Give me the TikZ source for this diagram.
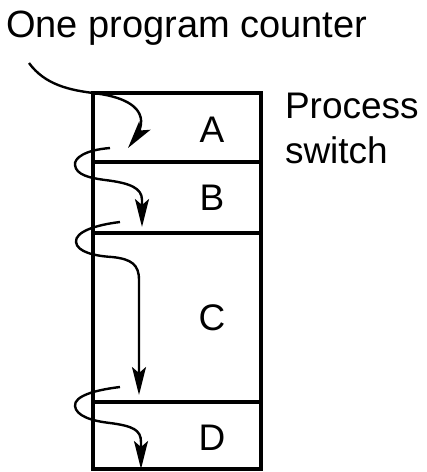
\documentclass[tikz,border=0pt]{standalone}
\usepackage{fontspec}
\setmainfont{Liberation Sans}
\usetikzlibrary{arrows.meta}
\begin{document}
\begin{tikzpicture}[x=0.5pt,y=-0.5pt,
  cell/.style={draw, line width=1.75pt, minimum width=84pt, inner sep=0pt, outer sep=0pt},
  lbl/.style={inner sep=0pt, outer sep=0pt, font=\fontsize{18.5}{22.5}\selectfont},
  pc/.style={line width=1.2pt},
  pcarrow/.style={pc, -{Stealth[length=14pt,width=7pt,inset=3pt]}}]
\useasboundingbox (0,0) rectangle (427,472);
% memory cells
\node[cell, minimum height=34.5pt] (cellA) at (177,127.5) {};
\node[cell, minimum height=35.5pt] (cellB) at (177,197.5) {};
\node[cell, minimum height=84.5pt] (cellC) at (177,317.5) {};
\node[cell, minimum height=33.5pt] (cellD) at (177,435.5) {};
% labels
\node[lbl, anchor=base] (A) at (212,142) {A};
\node[lbl, anchor=base] (B) at (212,210) {B};
\node[lbl, anchor=base] (C) at (212,330) {C};
\node[lbl, anchor=base] (D) at (212,450) {D};
\node[lbl, anchor=base west, font=\fontsize{19}{22.5}\selectfont] (title) at (6,37) {One program counter};
\node[lbl, anchor=base west, align=left] (ps) at (285,163) {Process\\switch};
% program counter path
\coordinate (s1) at (29,63);
\coordinate (t1) at (128,148);
\coordinate (s2) at (110,148);
\coordinate (t2) at (142,227);
\coordinate (s3) at (120,222);
\coordinate (t3) at (139,395);
\coordinate (s4) at (120,387);
\coordinate (t4) at (141,469);
\draw[pcarrow] (s1) .. controls (45,85) and (70,90) .. (93,93)
   .. controls (120,96) and (143,105) .. (141,124)
   .. controls (140,132) and (134,140) .. (t1);
\draw[pcarrow] (s2) .. controls (85,150) and (74,158) .. (75,165)
   .. controls (76,175) and (90,178) .. (105,180)
   .. controls (130,183) and (142,188) .. (142,200) -- (t2);
\draw[pcarrow] (s3) .. controls (95,225) and (75,232) .. (76,242)
   .. controls (77,252) and (95,256) .. (112,257)
   .. controls (132,259) and (139,265) .. (139,280) -- (t3);
\draw[pcarrow] (s4) .. controls (95,390) and (74,396) .. (75,406)
   .. controls (76,416) and (92,421) .. (110,423)
   .. controls (133,426) and (141,430) .. (141,442) -- (t4);
\end{tikzpicture}
\end{document}
